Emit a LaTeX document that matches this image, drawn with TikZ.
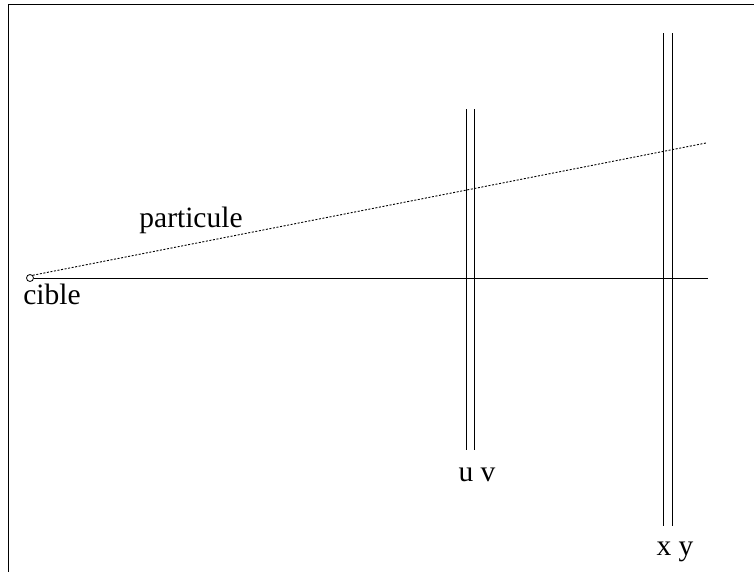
\documentclass[tikz,border=0pt]{standalone}
\usepackage{fontspec}
\setmainfont{Liberation Serif}
\usetikzlibrary{positioning}

\begin{document}
\begin{tikzpicture}[
  x=1pt, y=-1pt,
  wire/.style={line width=0.9pt},
  track/.style={line width=0.9pt, dash pattern=on 2pt off 1.6pt},
  lbl/.style={font=\fontsize{29.5}{32}\selectfont, inner sep=0pt, anchor=base}
]
\useasboundingbox (0,0) rectangle (754,571);
\clip (0,0) rectangle (754,571);
\draw[wire] (8,4) rectangle (770,590);

% cible et axe
\node[draw, circle, line width=0.8pt, minimum size=7pt, inner sep=0pt] (tgt) at (30,278) {};
\coordinate (axend) at (708,278);
\draw[wire] (tgt.east) -- (axend);

% chambres u v et x y
\coordinate (utop) at (466,109);
\coordinate (ubot) at (466,450);
\coordinate (vtop) at (474,109);
\coordinate (vbot) at (474,450);
\coordinate (xtop) at (663,33);
\coordinate (xbot) at (663,526);
\coordinate (ytop) at (672,33);
\coordinate (ybot) at (672,526);
\draw[wire] (utop) -- (ubot);
\draw[wire] (vtop) -- (vbot);
\draw[wire] (xtop) -- (xbot);
\draw[wire] (ytop) -- (ybot);

% trajectoire
\coordinate (trkend) at (706,143);
\draw[track] (tgt.north east) -- (trkend);

\node[lbl] (cible) at (52,304) {cible};
\node[lbl] (part) at (191,227) {particule};
\node[lbl] (uv) at (477,481) {u v};
\node[lbl] (xy) at (675,555) {x y};
\end{tikzpicture}
\end{document}
